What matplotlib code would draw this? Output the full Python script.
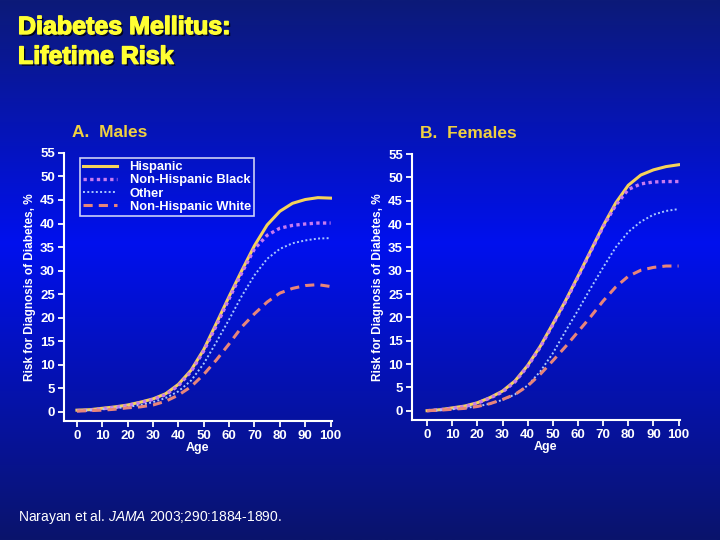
"""
Lifetime risk of diabetes by age, males vs females (slide reproduction).
"""

import numpy as np
import matplotlib.pyplot as plt
import matplotlib.patheffects as pe
from matplotlib.colors import LinearSegmentedColormap

plt.rcParams['font.family'] = ['Liberation Sans', 'DejaVu Sans']
plt.rcParams['mathtext.fontset'] = 'custom'
plt.rcParams['mathtext.it'] = 'Liberation Sans:italic'
plt.rcParams['mathtext.rm'] = 'Liberation Sans'

ages = [0, 5, 10, 15, 20, 25, 30, 35, 40, 45, 50,
        55, 60, 65, 70, 75, 80, 85, 90, 95, 100]

groups = ['Hispanic', 'Non-Hispanic Black', 'Other', 'Non-Hispanic White']

males_hispanic = [0.3, 0.4, 0.7, 1.0, 1.4, 2.0, 2.7, 3.8, 5.8, 8.8, 13.2,
                  18.8, 24.5, 30.0, 35.3, 39.7, 42.6, 44.3, 45.1, 45.5, 45.4]
males_black = [0.2, 0.3, 0.6, 0.9, 1.3, 1.9, 2.6, 3.6, 5.5, 8.5, 12.9,
               18.3, 24.0, 29.5, 34.6, 37.5, 39.0, 39.6, 39.9, 40.1, 40.1]
males_other = [0.2, 0.3, 0.5, 0.7, 1.0, 1.4, 2.0, 2.9, 4.3, 6.6, 10.2,
               14.8, 19.6, 24.6, 29.0, 32.5, 34.6, 35.8, 36.4, 36.8, 36.9]
males_white = [0.1, 0.2, 0.3, 0.5, 0.8, 1.0, 1.4, 2.2, 3.5, 5.3, 7.9,
               11.0, 14.4, 18.0, 20.8, 23.3, 25.2, 26.2, 26.8, 27.0, 26.6]

females_hispanic = [0.0, 0.2, 0.6, 1.0, 1.7, 2.8, 4.2, 6.4, 9.7, 13.8, 18.6,
                    23.5, 28.8, 34.2, 39.6, 44.5, 48.3, 50.5, 51.6, 52.3, 52.7]
females_black = [0.0, 0.2, 0.5, 0.9, 1.6, 2.7, 4.0, 6.2, 9.5, 13.6, 18.4,
                 23.3, 28.6, 34.0, 39.4, 44.0, 47.4, 48.6, 49.0, 49.1, 49.1]
females_other = [0.0, 0.1, 0.3, 0.6, 0.9, 1.5, 2.3, 3.5, 5.4, 8.4, 12.3,
                 17.0, 21.5, 26.2, 30.7, 35.0, 38.3, 40.5, 42.0, 42.8, 43.2]
females_white = [0.0, 0.1, 0.3, 0.5, 0.9, 1.5, 2.4, 3.5, 5.3, 7.8, 10.7,
                 13.7, 16.9, 20.1, 23.5, 26.5, 28.8, 30.1, 30.7, 31.0, 31.0]

styles = {
    'Hispanic':           dict(color='#f5d35a', ls='-', lw=2.2),
    'Non-Hispanic Black': dict(color='#c77bf0', ls=(0, (1, 1)), lw=2.4),
    'Other':              dict(color='#a9c8ff', ls=(0, (1, 1.2)), lw=1.4),
    'Non-Hispanic White': dict(color='#e8857a', ls=(0, (3, 2)), lw=2.2),
}

fig = plt.figure(figsize=(7.2, 5.4), dpi=100)

# slide background: vertical blue gradient
bg = fig.add_axes([0, 0, 1, 1], zorder=-10)
cmap = LinearSegmentedColormap.from_list(
    'slide', [(0.0, '#0c1a78'), (0.45, '#0010ee'), (1.0, '#0a146c')])
bg.imshow(np.linspace(0, 1, 256).reshape(-1, 1), aspect='auto', cmap=cmap,
          extent=[0, 1, 0, 1])
bg.axis('off')

fig.text(18 / 720, 1 - 15 / 540, 'Diabetes Mellitus:\nLifetime Risk',
         color='#ffff33', fontsize=18, fontweight='bold', va='top',
         linespacing=1.3,
         path_effects=[pe.withSimplePatchShadow(offset=(1.5, -1.5),
                                                shadow_rgbFace='black',
                                                alpha=0.8),
                       pe.withStroke(linewidth=1.0, foreground='#ffff33')])

panels = [
    ('A.  Males', [0.0889, 0.2204, 0.372, 0.4963], (-5.1, 100.5),
     [males_hispanic, males_black, males_other, males_white], True),
    ('B.  Females', [0.5722, 0.2222, 0.372, 0.4926], (-6.0, 100.5),
     [females_hispanic, females_black, females_other, females_white], False),
]

for title, rect, xlim, series, show_legend in panels:
    ax = fig.add_axes(rect)
    ax.set_facecolor('none')
    for name, vals in zip(groups, series):
        ax.plot(ages, vals, label=name, **styles[name])
    ax.set_xlim(*xlim)
    ax.set_ylim(-2, 55)
    ax.set_xticks(range(0, 101, 10))
    ax.set_yticks(range(0, 56, 5))
    for s in ('top', 'right'):
        ax.spines[s].set_visible(False)
    for s in ('left', 'bottom'):
        ax.spines[s].set_color('white')
        ax.spines[s].set_linewidth(1.5)
    ax.tick_params(colors='white', width=1.3, length=4, labelsize=9.5,
                   pad=2.5)
    for lab in ax.get_xticklabels() + ax.get_yticklabels():
        lab.set_fontweight('bold')
    ax.set_xlabel('Age', color='white', fontsize=9, fontweight='bold',
                  labelpad=0)
    ax.set_ylabel('Risk for Diagnosis of Diabetes, %', color='white',
                  fontsize=8.5, fontweight='bold', labelpad=3)
    ax.text(0.03, 1.05, title, transform=ax.transAxes, color='#f0d040',
            fontsize=12.5, fontweight='bold', va='bottom')
    if show_legend:
        leg = ax.legend(loc='upper left', bbox_to_anchor=(0.035, 1.005),
                        frameon=True, fancybox=False, fontsize=9.3,
                        handlelength=2.6, borderpad=0.25, labelspacing=0.08,
                        handletextpad=1.0)
        leg.get_frame().set_facecolor('none')
        leg.get_frame().set_edgecolor('white')
        leg.get_frame().set_linewidth(1.2)
        for t in leg.get_texts():
            t.set_color('white')
            t.set_fontweight('bold')

fig.text(18 / 720, 1 - 517 / 540,
         r'Narayan et al. $\mathit{JAMA}$ 2003;290:1884-1890.',
         color='white', fontsize=10, va='center')

fig.savefig('out.png', dpi=100)
